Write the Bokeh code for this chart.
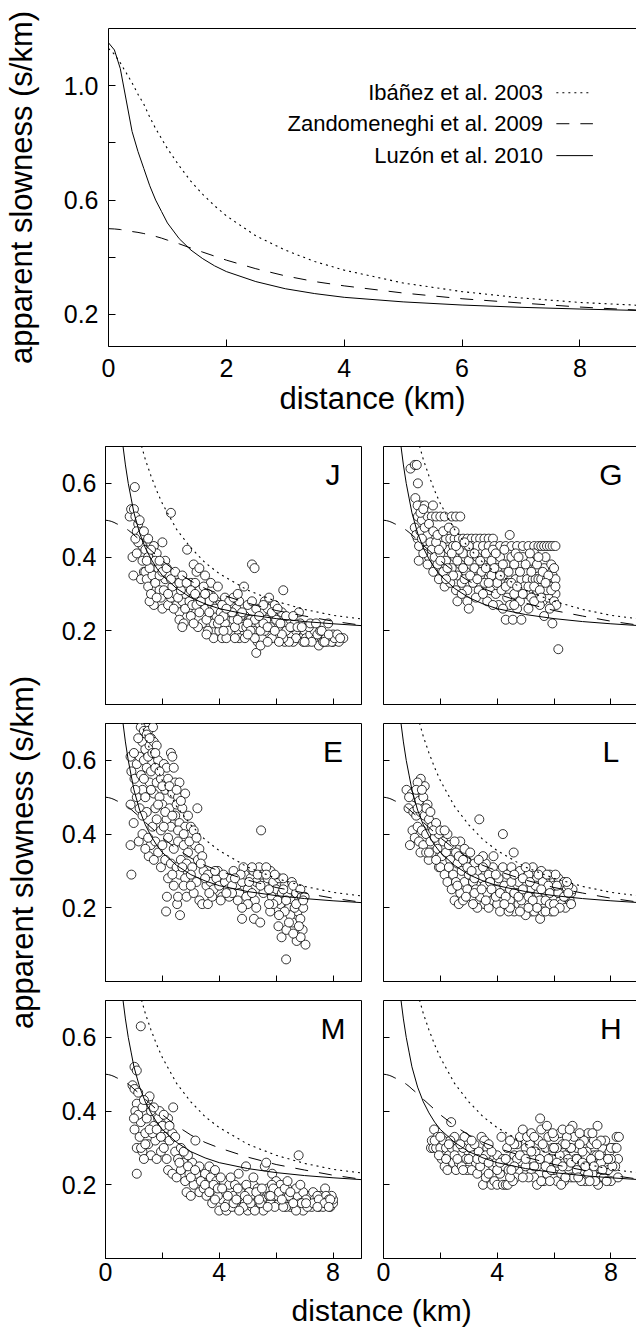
from math import pi
from bokeh.plotting import figure
from bokeh.models import Range1d, FixedTicker, LinearAxis, PrintfTickFormatter
from bokeh.layouts import column, row
from bokeh.core.properties import value
from bokeh.embed import file_html
from bokeh.resources import INLINE

FONT = "Liberation Sans"
TICK_FS = "25px"
TITLE_FS = "31px"

# ---------------- model curves ----------------
dist = [0, 0.1, 0.2, 0.3, 0.4, 0.5, 0.6, 0.7, 0.8, 0.9, 1.0, 1.2, 1.4, 1.6, 1.8,
        2.0, 2.5, 3.0, 3.5, 4.0, 5.0, 6.0, 7.0, 8.0, 9.0]
ibanez = [1.13, 1.11, 1.08, 1.045, 1.01, 0.97, 0.935, 0.89, 0.85, 0.815, 0.78, 0.72,
          0.665, 0.62, 0.58, 0.545, 0.475, 0.425, 0.385, 0.355, 0.31, 0.28, 0.258, 0.242, 0.232]
zandom = [0.50, 0.499, 0.497, 0.494, 0.49, 0.487, 0.483, 0.478, 0.473, 0.467, 0.46, 0.447,
          0.432, 0.418, 0.404, 0.39, 0.36, 0.335, 0.315, 0.30, 0.275, 0.255, 0.24, 0.226, 0.215]
luzon = [1.15, 1.125, 1.06, 0.95, 0.84, 0.77, 0.71, 0.65, 0.60, 0.56, 0.52, 0.465,
         0.425, 0.395, 0.37, 0.35, 0.315, 0.29, 0.273, 0.26, 0.244, 0.233, 0.225, 0.219, 0.214]

legend_names = ["Ibáñez et al. 2003", "Zandomeneghi et al. 2009", "Luzón et al. 2010"]
station_names = ["J", "G", "E", "L", "M", "H"]

# ---------------- station observations (distance km, slowness s/km) ----------------
J_pts = [(0.85,0.51),(0.90,0.53),(1.00,0.53),(1.05,0.51),(1.03,0.59),(1.15,0.49),(1.10,0.47),(0.95,0.40),(0.98,0.35),(1.20,0.44),(1.25,0.46),(1.30,0.43),(1.10,0.41),(1.30,0.39),(1.15,0.44),(1.05,0.45),(1.35,0.36),(1.25,0.34),
 (1.40,0.42),(1.50,0.40),(1.60,0.38),(1.40,0.36),(1.45,0.34),(1.50,0.32),(1.70,0.43),(1.80,0.41),(2.00,0.44),(1.65,0.35),(1.75,0.33),(1.85,0.37),(1.90,0.31),(1.70,0.27),(2.00,0.26),(1.95,0.29),(2.10,0.34),(2.10,0.39),(1.55,0.28),(1.60,0.30),(1.80,0.29),(1.55,0.37),(2.05,0.31),(1.90,0.35),(1.45,0.39),
 (2.20,0.27),(2.30,0.29),(2.40,0.31),(2.50,0.33),(2.30,0.52),(2.25,0.35),(2.50,0.27),(2.60,0.25),(2.70,0.28),(2.80,0.30),(2.90,0.32),(2.87,0.42),(2.60,0.23),(2.75,0.22),(2.90,0.26),(3.00,0.24),(2.45,0.30),(3.10,0.38),(3.20,0.36),(3.30,0.37),(3.00,0.33),(3.10,0.29),(2.35,0.32),(2.55,0.29),(2.65,0.31),(2.20,0.30),(2.80,0.26),(2.95,0.28),(2.40,0.26),(3.05,0.27),
 (3.20,0.27),(3.30,0.31),(3.40,0.29),(3.50,0.26),(3.50,0.35),(3.60,0.30),(3.70,0.25),(3.80,0.22),(3.90,0.28),(3.60,0.20),(3.80,0.18),(3.40,0.22),(3.30,0.25),(3.90,0.24),(4.00,0.27),(3.70,0.33),(4.00,0.20),(3.25,0.21),(3.55,0.23),(3.75,0.27),(3.85,0.26),(3.45,0.32),(3.15,0.33),(3.95,0.22),(3.65,0.28),(4.05,0.25),
 (4.10,0.18),(4.20,0.22),(4.30,0.25),(4.40,0.27),(4.50,0.23),(4.60,0.20),(4.70,0.18),(4.80,0.21),(4.90,0.24),(4.40,0.19),(4.20,0.29),(4.60,0.26),(4.87,0.32),(4.70,0.28),(5.00,0.27),(4.30,0.20),(4.90,0.18),(4.15,0.24),(4.35,0.28),(4.55,0.21),(4.75,0.24),(4.95,0.21),(4.65,0.23),(4.45,0.25),(4.25,0.18),(5.05,0.23),
 (5.15,0.38),(5.24,0.37),(5.10,0.23),(5.20,0.20),(5.30,0.14),(5.35,0.17),(5.40,0.22),(5.50,0.25),(5.60,0.28),(5.70,0.26),(5.50,0.18),(5.80,0.21),(5.90,0.24),(6.00,0.18),(5.60,0.20),(5.30,0.26),(5.75,0.29),(6.00,0.23),(5.15,0.28),(5.45,0.20),(5.65,0.23),(5.85,0.18),(5.95,0.27),(5.25,0.23),(5.55,0.22),(5.45,0.16),(5.70,0.17),
 (6.10,0.20),(6.25,0.31),(6.20,0.25),(6.30,0.17),(6.40,0.22),(6.50,0.19),(6.60,0.17),(6.70,0.20),(6.80,0.25),(6.90,0.18),(7.00,0.20),(6.50,0.23),(6.70,0.18),(6.35,0.20),(6.15,0.22),(6.45,0.17),(6.55,0.21),(6.85,0.22),(6.95,0.17),(6.65,0.22),(6.25,0.18),(7.05,0.18),
 (7.10,0.17),(7.20,0.19),(7.30,0.21),(7.40,0.18),(7.50,0.17),(7.60,0.18),(7.70,0.19),(7.83,0.22),(7.90,0.18),(8.00,0.17),(8.10,0.18),(8.00,0.19),(7.50,0.16),(7.35,0.20),(8.36,0.18),(7.80,0.17),(8.20,0.17),(7.25,0.17),(7.45,0.19),(7.65,0.17),(7.95,0.17),(8.05,0.18),(7.15,0.21),(7.55,0.20),(7.75,0.18),
 (1.20,0.50),(1.35,0.47),(1.50,0.45),(1.60,0.42),(1.75,0.39),(1.90,0.39),(2.00,0.36),(2.15,0.37),(2.30,0.34),(2.45,0.36),(2.60,0.33),(2.70,0.35),(2.85,0.33),(3.00,0.31),(3.15,0.30),(3.35,0.28),(3.50,0.30),(3.65,0.25),(3.80,0.29),(3.95,0.32),(4.10,0.27),(4.25,0.26),(4.50,0.29),(4.65,0.30),(4.80,0.25),(5.00,0.22),(5.10,0.20),(5.25,0.18),(5.40,0.24),(5.55,0.27),(5.70,0.21),(5.85,0.25),(6.05,0.26),(6.20,0.19),(6.35,0.24),(6.50,0.21),(6.60,0.24),(6.75,0.21),(6.90,0.21),(7.00,0.17),(7.20,0.22),(7.40,0.22),(7.60,0.20),(7.70,0.17),(7.85,0.19),(8.15,0.19),(8.25,0.18),(4.00,0.23),(3.55,0.19),(4.55,0.18),(5.00,0.19),(6.10,0.17),(5.95,0.20),(4.15,0.20),(3.10,0.22),(2.70,0.21)]

G_pts = [(0.95,0.64),(1.10,0.65),(1.17,0.65),(1.21,0.60),(1.12,0.56),(1.31,0.54),(1.20,0.54),(1.45,0.54),(1.74,0.54),(1.21,0.51),(1.10,0.48),(1.24,0.39),(1.20,0.45),(1.15,0.46),(1.35,0.50),(1.30,0.47),(1.40,0.44),(1.50,0.42),(1.60,0.40),(1.55,0.46),(1.40,0.41),(1.25,0.43),(1.45,0.48),(1.35,0.45),(1.55,0.38),(1.65,0.44),
 (1.55,0.51),(1.70,0.51),(1.85,0.51),(2.00,0.51),(2.15,0.51),(2.40,0.51),(2.55,0.51),(2.70,0.51),
 (2.05,0.45),(2.20,0.45),(2.35,0.45),(2.50,0.45),(2.65,0.45),(2.80,0.45),(2.95,0.45),(3.10,0.45),(3.25,0.45),(3.40,0.45),(3.55,0.45),(3.70,0.45),(3.85,0.45),(4.44,0.46),
 (3.10,0.43),(3.30,0.43),(3.50,0.43),(3.70,0.43),(3.90,0.43),(4.10,0.43),(4.30,0.43),(4.50,0.43),(4.70,0.43),(4.90,0.43),(5.10,0.43),(5.30,0.43),(5.45,0.43),(5.55,0.43),(5.65,0.43),(5.75,0.43),(5.85,0.43),(5.95,0.43),(6.05,0.43),
 (1.70,0.42),(1.80,0.40),(1.90,0.38),(2.00,0.41),(2.10,0.36),(2.20,0.39),(2.30,0.42),(2.40,0.37),(2.50,0.40),(2.60,0.35),(2.70,0.38),(2.80,0.41),(2.90,0.36),(3.00,0.39),(1.75,0.36),(1.95,0.34),(2.15,0.32),(2.35,0.33),(2.55,0.31),(2.75,0.33),(2.95,0.31),(2.60,0.28),(2.95,0.28),(2.45,0.35),(2.85,0.34),(2.05,0.43),(2.25,0.37),(2.65,0.42),(1.85,0.44),(2.45,0.43),
 (3.10,0.41),(3.20,0.37),(3.30,0.40),(3.40,0.35),(3.50,0.38),(3.60,0.41),(3.70,0.36),(3.80,0.39),(3.90,0.34),(4.00,0.37),(4.10,0.40),(4.20,0.35),(4.30,0.38),(4.40,0.33),(3.15,0.33),(3.35,0.31),(3.55,0.33),(3.75,0.31),(3.95,0.30),(4.15,0.31),(4.35,0.29),(3.25,0.29),(3.65,0.28),(4.05,0.27),(4.45,0.27),(3.45,0.36),(3.85,0.42),(4.25,0.42),(3.05,0.35),(4.50,0.40),
 (4.55,0.36),(4.65,0.34),(4.75,0.38),(4.85,0.34),(4.95,0.36),(5.05,0.34),(5.15,0.39),(5.25,0.34),(5.35,0.34),(5.45,0.34),(5.55,0.34),(5.65,0.37),(5.75,0.34),(5.85,0.32),(5.95,0.35),(6.05,0.30),(4.60,0.30),(4.80,0.28),(5.00,0.30),(5.20,0.29),(5.40,0.31),(5.60,0.28),(5.80,0.29),(6.00,0.28),(6.08,0.27),(4.70,0.26),(5.10,0.26),(5.50,0.27),(4.30,0.23),(4.55,0.23),(4.85,0.23),(5.94,0.22),(5.65,0.24),(6.15,0.15),(4.90,0.40),(5.30,0.41),(5.70,0.40),(5.90,0.38),(6.05,0.34),(4.95,0.32),(5.35,0.37),(5.75,0.31),(4.65,0.41),
 (1.30,0.52),(1.40,0.53),(1.60,0.49),(1.75,0.47),(1.90,0.46),(2.10,0.47),(2.30,0.48),(2.50,0.47),(2.00,0.39),(2.20,0.34),(2.40,0.41),(2.60,0.39),(2.80,0.37),(3.00,0.43),(3.20,0.41),(3.40,0.39),(3.60,0.37),(3.80,0.35),(4.00,0.33),(4.20,0.38),(4.40,0.36),(4.60,0.38),(4.80,0.36),(5.00,0.38),(5.20,0.36),(5.40,0.38),(5.60,0.36),(5.80,0.35),(6.00,0.37),(3.30,0.34),(3.50,0.30),(3.70,0.33),(3.90,0.37),(4.10,0.35),(4.30,0.32),(4.50,0.33),(4.70,0.32),(4.90,0.30),(5.10,0.32),(5.30,0.32),(5.50,0.31),(5.70,0.33),(5.90,0.31),(2.75,0.30),(3.00,0.26),(3.85,0.27),(4.20,0.26),(4.60,0.27),(5.30,0.28),(5.55,0.29),(5.85,0.26),(6.05,0.32),(5.15,0.41),(5.45,0.40),(4.75,0.40),(3.95,0.41),(2.55,0.43),(1.95,0.42),(2.85,0.44)]

E_pts = [(1.24,0.69),(1.35,0.68),(1.50,0.68),(1.67,0.69),(1.45,0.67),(1.60,0.66),(1.30,0.65),(1.40,0.63),(1.55,0.64),(1.70,0.65),(1.80,0.64),(0.88,0.61),(0.91,0.57),(1.02,0.55),(1.10,0.59),(1.20,0.61),(1.35,0.60),(1.50,0.61),(1.65,0.62),(1.85,0.60),(2.30,0.62),(2.35,0.61),(1.25,0.56),(1.45,0.58),(1.60,0.57),(1.75,0.58),(2.05,0.59),(2.15,0.58),(2.40,0.58),(1.30,0.52),(1.55,0.54),(1.80,0.54),(1.95,0.55),(2.20,0.55),(2.45,0.54),(2.60,0.54),(1.10,0.50),(1.40,0.50),(1.70,0.51),(1.90,0.50),(2.10,0.52),(2.35,0.51),(2.55,0.50),(2.80,0.51),(0.88,0.48),(0.99,0.43),(1.20,0.47),(1.45,0.46),(1.75,0.47),(2.00,0.48),(2.25,0.47),(2.50,0.48),(2.70,0.47),(3.23,0.47),(0.88,0.37),(0.91,0.29),(1.17,0.38),(1.30,0.40),(1.52,0.34),(1.59,0.37),(1.65,0.42),(1.80,0.44),(1.95,0.41),(2.15,0.44),(2.30,0.42),(2.45,0.45),(2.60,0.43),(2.80,0.42),(3.00,0.42),(3.10,0.41),(1.40,0.36),(1.75,0.38),(1.85,0.35),(2.00,0.37),(2.20,0.39),(2.40,0.36),(2.55,0.38),(2.75,0.37),(2.90,0.35),(3.15,0.37),(3.30,0.36),(1.95,0.31),(2.10,0.33),(2.30,0.32),(2.50,0.31),(2.65,0.33),(2.85,0.32),(3.05,0.31),(3.25,0.33),(3.40,0.34),(2.20,0.28),(2.40,0.26),(2.60,0.29),(2.80,0.28),(3.00,0.29),(3.20,0.27),(3.45,0.30),(2.16,0.23),(2.13,0.19),(2.62,0.18),(2.52,0.21),(2.55,0.23),(2.85,0.23),(3.10,0.24),(3.30,0.22),(3.40,0.21),(3.60,0.21),(2.75,0.26),(3.55,0.26),
 (3.60,0.29),(3.70,0.27),(3.80,0.25),(3.90,0.28),(4.00,0.26),(4.10,0.23),(4.20,0.27),(4.30,0.25),(4.40,0.28),(4.50,0.30),(4.60,0.26),(4.70,0.24),(4.80,0.27),(4.90,0.29),(5.00,0.25),(5.10,0.28),(5.20,0.30),(5.30,0.27),(5.40,0.31),(5.50,0.29),(5.60,0.26),(5.70,0.28),(5.80,0.30),(5.90,0.27),(6.00,0.25),(6.10,0.28),(6.20,0.24),(6.30,0.26),(6.40,0.23),(6.50,0.25),(6.60,0.22),(6.70,0.24),(6.80,0.22),(6.90,0.23),(7.00,0.23),(3.75,0.23),(4.05,0.22),(4.35,0.23),(4.65,0.22),(4.95,0.23),(5.25,0.22),(5.55,0.24),(5.85,0.23),(6.15,0.21),(6.45,0.20),(6.75,0.19),(5.00,0.21),(5.30,0.20),(4.80,0.20),(4.85,0.31),(5.15,0.31),(5.45,0.26),(5.75,0.25),(6.05,0.22),(6.55,0.27),(5.47,0.41),(4.45,0.26),(3.95,0.30),(6.25,0.28),(5.65,0.31),
 (4.80,0.17),(5.22,0.17),(5.44,0.16),(5.79,0.19),(6.08,0.15),(6.19,0.12),(6.36,0.14),(6.58,0.16),(6.72,0.11),(6.93,0.14),(7.03,0.10),(6.86,0.12),(6.35,0.06),(6.50,0.18),(6.65,0.20),(6.30,0.19),(6.85,0.17),(6.10,0.18),(5.90,0.21),(6.95,0.20),
 (1.15,0.66),(1.55,0.66),(1.75,0.62),(1.90,0.57),(2.00,0.53),(2.25,0.53),(2.50,0.52),(2.65,0.49),(2.90,0.45),(1.60,0.52),(1.85,0.48),(2.10,0.46),(2.35,0.45),(2.55,0.41),(2.75,0.40),(2.95,0.38),(3.20,0.39),(3.35,0.32),(3.50,0.28),(3.65,0.24),(3.85,0.30),(4.15,0.29),(4.45,0.24),(4.75,0.29),(5.05,0.27),(5.35,0.29),(5.65,0.29),(5.95,0.29),(6.25,0.25),(6.60,0.26),(6.85,0.25),(2.70,0.31),(2.35,0.29),(3.00,0.26),(4.25,0.24),(4.55,0.28),(5.15,0.24),(5.75,0.21),(6.35,0.22),(6.70,0.21),(6.95,0.22),(1.00,0.62),(1.30,0.45),(1.50,0.39),(1.70,0.33),(2.05,0.42),(1.05,0.52),(1.35,0.55),(6.45,0.16),(6.60,0.13),(6.80,0.15)]

L_pts = [(0.81,0.52),(1.31,0.55),(1.45,0.53),(1.20,0.54),(0.88,0.47),(1.02,0.41),(0.93,0.37),(1.59,0.33),(1.95,0.31),(1.00,0.51),(1.10,0.50),(1.25,0.49),(1.40,0.50),(1.55,0.48),(1.05,0.46),(1.15,0.45),(1.30,0.46),(1.45,0.45),(1.60,0.44),(1.20,0.42),(1.35,0.41),(1.50,0.40),(1.70,0.42),(1.85,0.43),(1.10,0.39),(1.25,0.38),(1.40,0.37),(1.65,0.38),(1.80,0.39),(1.95,0.40),(1.30,0.35),(1.50,0.35),(1.70,0.35),(1.90,0.36),(2.10,0.38),(2.25,0.40),(2.40,0.37),(2.05,0.34),(2.20,0.35),(2.35,0.33),(2.55,0.35),(2.70,0.38),(2.85,0.36),(2.00,0.31),(2.15,0.29),(2.30,0.31),(2.45,0.29),(2.60,0.32),(2.75,0.30),(2.90,0.33),(3.05,0.35),(3.20,0.32),(2.25,0.27),(2.40,0.25),(2.55,0.27),(2.70,0.24),(2.85,0.27),(3.00,0.29),(3.15,0.27),(3.30,0.30),(3.45,0.28),(2.50,0.22),(2.65,0.21),(2.80,0.22),(2.95,0.25),(3.10,0.23),(3.25,0.25),(3.40,0.23),(3.55,0.26),(3.70,0.29),(3.85,0.31),(3.37,0.44),(4.20,0.40),(4.58,0.35),(3.87,0.34),(3.60,0.32),(3.75,0.27),(3.90,0.25),(4.05,0.28),(4.20,0.31),(4.35,0.29),(4.50,0.31),(4.65,0.28),(4.80,0.30),(4.95,0.27),(5.10,0.29),(5.25,0.31),(5.40,0.28),(5.55,0.30),(5.70,0.27),(5.85,0.29),(6.00,0.26),(6.15,0.28),(6.30,0.26),(6.45,0.25),(6.60,0.24),(3.55,0.21),(3.70,0.20),(3.85,0.22),(4.00,0.21),(4.15,0.23),(4.30,0.20),(4.45,0.22),(4.60,0.19),(4.75,0.21),(4.90,0.20),(5.05,0.22),(5.20,0.19),(5.35,0.21),(5.51,0.17),(5.65,0.20),(5.80,0.22),(5.95,0.20),(6.10,0.22),(6.25,0.21),(6.40,0.20),(6.55,0.22),(6.65,0.25),(4.00,0.25),(4.25,0.26),(4.45,0.25),(4.70,0.24),(4.95,0.24),(5.20,0.25),(5.45,0.24),(5.70,0.24),(5.95,0.23),(6.20,0.24),(6.40,0.23),(4.10,0.19),(4.40,0.19),(5.00,0.18),(5.30,0.19),(5.60,0.19),(5.90,0.19),(3.30,0.20),(3.15,0.21),(3.20,0.28),(3.50,0.34),(3.95,0.29),(4.75,0.27),(5.00,0.31),(5.35,0.26),(5.60,0.27),(5.80,0.26),(6.05,0.29),(6.35,0.27),(6.50,0.26),(4.50,0.27),(4.85,0.22),(5.50,0.22),(5.85,0.24),(6.15,0.24),
 (0.90,0.50),(1.15,0.52),(1.35,0.52),(1.50,0.47),(1.65,0.46),(1.75,0.41),(2.00,0.41),(2.15,0.41),(2.30,0.37),(2.50,0.38),(2.65,0.34),(2.80,0.33),(2.95,0.31),(3.10,0.30),(3.35,0.33),(3.50,0.31),(3.65,0.24),(3.80,0.25),(3.95,0.23),(4.10,0.24),(4.30,0.23),(4.45,0.20),(4.60,0.24),(4.75,0.23),(4.90,0.25),(5.10,0.23),(5.25,0.22),(5.40,0.20),(5.55,0.25),(5.70,0.22),(5.85,0.21),(6.00,0.21),(6.20,0.20),(6.35,0.23),(6.50,0.24),(6.60,0.21),(4.60,0.29),(4.90,0.28),(5.15,0.27),(5.45,0.29),(5.75,0.29),(6.10,0.26),(6.45,0.27),(2.60,0.26),(2.90,0.23),(3.20,0.24),(3.45,0.25),(3.60,0.22),(4.25,0.21),(4.80,0.19),(5.10,0.20),(5.70,0.19),(6.00,0.19),(1.20,0.47),(1.60,0.35),(1.85,0.33)]

M_pts = [(1.24,0.63),(1.02,0.52),(1.10,0.51),(0.95,0.47),(1.02,0.46),(1.10,0.42),(1.02,0.35),(1.10,0.30),(1.10,0.23),(1.24,0.37),(1.05,0.40),(1.15,0.39),(1.00,0.38),(1.30,0.41),(1.20,0.33),(1.30,0.29),(1.40,0.34),(1.45,0.38),(1.50,0.43),(1.55,0.44),(1.60,0.40),(1.70,0.36),(1.50,0.31),(1.60,0.28),(1.75,0.32),(1.85,0.38),(1.90,0.40),(2.00,0.36),(2.10,0.33),(2.20,0.38),(2.38,0.41),(1.80,0.27),(1.95,0.29),(2.05,0.30),(2.15,0.27),(2.25,0.32),(2.35,0.34),(2.45,0.29),(2.55,0.27),(2.65,0.30),(2.75,0.26),(2.20,0.24),(2.35,0.23),(2.50,0.22),(2.65,0.24),(2.80,0.21),(2.95,0.23),(3.05,0.26),(3.16,0.32),(2.90,0.28),(3.10,0.20),(3.20,0.23),(3.30,0.25),(3.40,0.21),(3.50,0.23),(3.60,0.19),(3.70,0.22),(3.30,0.18),(3.45,0.19),(3.55,0.17),(3.80,0.18),(3.90,0.21),(4.00,0.19),(4.00,0.13),(4.10,0.16),(4.20,0.18),(4.30,0.15),(4.40,0.19),(4.50,0.17),(4.60,0.14),(4.70,0.16),(4.68,0.23),(4.80,0.19),(4.90,0.15),(4.94,0.25),(5.00,0.13),(5.10,0.17),(5.20,0.20),(5.30,0.15),(5.40,0.18),(5.50,0.16),(5.60,0.25),(5.65,0.26),(5.70,0.19),(5.80,0.15),(5.86,0.23),(5.90,0.17),(6.00,0.21),(6.10,0.15),(6.20,0.18),(6.30,0.16),(6.40,0.19),(6.50,0.14),(6.60,0.17),(6.70,0.15),(6.79,0.28),(6.80,0.19),(6.90,0.16),(7.00,0.14),(7.10,0.17),(7.20,0.15),(7.30,0.18),(7.40,0.15),(7.50,0.14),(7.60,0.16),(7.72,0.19),(7.80,0.15),(7.90,0.14),(8.00,0.15),(8.00,0.16),(7.95,0.17),(4.15,0.21),(4.35,0.20),(4.55,0.20),(4.75,0.18),(4.95,0.20),(5.15,0.14),(5.35,0.19),(5.55,0.13),(5.75,0.17),(5.95,0.14),(6.15,0.20),(6.35,0.14),(6.55,0.16),(6.75,0.17),(6.95,0.18),(7.15,0.15),(7.35,0.16),(7.55,0.17),(7.75,0.17),(4.25,0.13),(4.45,0.14),(4.85,0.14),(5.25,0.13),(5.45,0.15),(6.05,0.17),(6.25,0.14),(6.45,0.17),(6.65,0.14),(6.85,0.15),(7.05,0.16),(7.25,0.14),(7.45,0.17),(7.65,0.14),(7.85,0.16),(3.75,0.15),(3.95,0.17),(4.65,0.19),(5.05,0.18),(5.85,0.20),(6.70,0.19),(6.95,0.13),(4.05,0.22),(3.65,0.25),(3.85,0.24),(2.85,0.18),(3.00,0.17),(1.65,0.34),(1.35,0.27),(1.25,0.30),
 (1.15,0.45),(1.35,0.43),(1.40,0.31),(1.55,0.35),(1.70,0.41),(1.80,0.35),(1.95,0.33),(2.05,0.39),(2.25,0.36),(2.45,0.33),(2.60,0.26),(2.75,0.29),(2.90,0.25),(3.00,0.22),(3.15,0.24),(3.35,0.21),(3.50,0.20),(3.65,0.18),(3.80,0.20),(3.95,0.19),(4.10,0.19),(4.30,0.17),(4.50,0.15),(4.70,0.13),(4.90,0.17),(5.10,0.15),(5.30,0.18),(5.50,0.19),(5.70,0.14),(5.90,0.19),(6.10,0.18),(6.30,0.19),(6.50,0.18),(6.70,0.13),(6.90,0.15),(7.10,0.14),(7.30,0.15),(7.50,0.16),(7.70,0.15),(7.90,0.16),(7.85,0.14),(7.45,0.14),(7.05,0.15),(6.60,0.15),(6.20,0.16),(5.80,0.17),(5.40,0.16),(5.00,0.16),(4.60,0.16),(4.20,0.14),(3.85,0.16),(6.40,0.21),(5.20,0.22),(4.40,0.22),(6.85,0.20)]

H_pts = [(1.67,0.30),(1.78,0.35),(1.70,0.32),(1.75,0.30),(1.85,0.30),(1.90,0.33),(2.00,0.30),(2.10,0.32),(2.20,0.30),(2.38,0.37),(2.05,0.27),(2.15,0.25),(2.30,0.28),(2.40,0.30),(2.50,0.33),(2.60,0.30),(2.70,0.28),(2.80,0.30),(2.90,0.27),(2.25,0.24),(2.45,0.26),(2.55,0.24),(2.65,0.26),(2.75,0.25),(2.95,0.24),(3.05,0.30),(3.15,0.28),(3.25,0.26),(3.35,0.29),(3.45,0.33),(3.55,0.32),(3.65,0.30),(3.75,0.27),(3.85,0.25),(3.95,0.26),(4.05,0.24),(4.15,0.33),(3.10,0.24),(3.30,0.23),(3.50,0.20),(3.60,0.22),(3.70,0.23),(3.80,0.20),(3.90,0.21),(4.00,0.20),(4.20,0.20),(4.30,0.20),(4.37,0.20),(4.10,0.23),(4.25,0.25),(4.40,0.24),(4.50,0.26),(4.60,0.28),(4.70,0.31),(4.80,0.33),(4.90,0.35),(5.00,0.30),(5.10,0.27),(5.20,0.24),(5.30,0.22),(5.40,0.20),(5.51,0.38),(5.55,0.35),(5.45,0.32),(5.35,0.29),(5.25,0.27),(5.15,0.31),(5.05,0.33),(4.95,0.28),(4.85,0.26),(4.75,0.24),(4.65,0.22),(4.55,0.21),(4.45,0.22),(5.60,0.26),(5.70,0.30),(5.80,0.33),(5.90,0.27),(6.00,0.24),(6.10,0.21),(6.20,0.34),(6.30,0.31),(6.40,0.28),(6.50,0.25),(6.60,0.22),(6.65,0.36),(6.70,0.33),(6.80,0.30),(6.90,0.27),(7.00,0.24),(7.10,0.21),(7.20,0.34),(7.30,0.31),(7.40,0.28),(7.50,0.25),(7.53,0.36),(7.55,0.20),(7.60,0.22),(7.70,0.30),(7.80,0.27),(7.90,0.24),(8.00,0.21),(8.10,0.30),(8.20,0.33),(8.28,0.33),(8.25,0.27),(8.15,0.25),(5.65,0.21),(5.75,0.23),(5.85,0.21),(5.95,0.30),(6.05,0.27),(6.15,0.25),(6.25,0.23),(6.35,0.21),(6.45,0.33),(6.55,0.30),(6.75,0.27),(6.85,0.25),(6.95,0.21),(7.05,0.32),(7.15,0.29),(7.25,0.26),(7.35,0.23),(7.45,0.21),(7.65,0.26),(7.75,0.22),(7.85,0.21),(7.95,0.29),(8.05,0.25),(6.00,0.33),(6.30,0.35),(6.90,0.34),(7.80,0.32),(4.00,0.28),(4.35,0.30),(5.20,0.34),(5.75,0.36),(6.60,0.30),(7.10,0.28),(7.40,0.32),(4.70,0.27),(5.00,0.25),(5.40,0.25),(5.80,0.27),(6.20,0.28),(6.70,0.22),(7.20,0.23),(7.65,0.32),(8.00,0.27),(3.40,0.25),(3.60,0.28),(3.20,0.31),(2.85,0.33),(2.35,0.32),(1.95,0.28),(6.10,0.30),(6.40,0.22),(6.80,0.24),(7.00,0.29),(7.50,0.28),(5.10,0.22),(4.60,0.25),(4.20,0.27),
 (1.80,0.32),(2.00,0.33),(2.20,0.27),(2.30,0.31),(2.50,0.28),(2.60,0.27),(2.70,0.31),(2.80,0.24),(3.00,0.27),(3.10,0.32),(3.30,0.27),(3.50,0.27),(3.70,0.26),(3.80,0.29),(4.00,0.24),(4.10,0.26),(4.30,0.27),(4.50,0.24),(4.60,0.31),(4.80,0.28),(4.90,0.22),(5.00,0.27),(5.20,0.29),(5.30,0.25),(5.50,0.27),(5.60,0.31),(5.70,0.25),(5.90,0.24),(6.00,0.30),(6.10,0.26),(6.30,0.25),(6.40,0.31),(6.50,0.27),(6.60,0.26),(6.80,0.27),(6.90,0.31),(7.00,0.26),(7.10,0.25),(7.30,0.27),(7.40,0.25),(7.50,0.31),(7.60,0.28),(7.70,0.24),(7.90,0.27),(8.00,0.30),(8.20,0.30),(8.25,0.22),(7.35,0.34),(6.55,0.35),(5.95,0.34),(5.30,0.33),(4.45,0.32),(3.70,0.31),(6.25,0.20),(6.85,0.22),(7.25,0.21),(5.55,0.21)]

station_pts = [J_pts, G_pts, E_pts, L_pts, M_pts, H_pts]

top_y_ticks = [0.2, 0.6, 1.0]
top_y_minor = [0.4, 0.8]
top_x_ticks = [0, 2, 4, 6, 8]
pan_y_ticks = [0.2, 0.4, 0.6]
pan_x_ticks = [0, 4, 8]
pan_x_minor = [2, 6]

DOT = "2 4"
DASH = "13 11"


def make_fig(w, h, xr, yr, mbl, mbr, mbt, mbb):
    p = figure(width=w, height=h, x_range=Range1d(*xr), y_range=Range1d(*yr),
               output_backend="svg", toolbar_location=None, title=None,
               min_border_left=mbl, min_border_right=mbr,
               min_border_top=mbt, min_border_bottom=mbb)
    p.grid.grid_line_color = None
    p.background_fill_color = "white"
    p.border_fill_color = "white"
    return p


def style_axis(ax, ticks, minor, tick_len, show, standoff=9, fmt=None):
    if show:
        ax.ticker = FixedTicker(ticks=ticks, minor_ticks=minor)
        ax.major_label_text_font_size = TICK_FS
        ax.major_label_standoff = standoff
    else:
        # unlabeled axis: every tick drawn as a minor tick (no label texts)
        ax.ticker = FixedTicker(ticks=[], minor_ticks=list(ticks) + list(minor))
        ax.major_label_standoff = 0
    ax.major_tick_in = tick_len
    ax.major_tick_out = 0
    ax.minor_tick_in = tick_len
    ax.minor_tick_out = 0
    ax.major_tick_line_color = "black"
    ax.minor_tick_line_color = "black"
    ax.axis_line_color = "black"
    ax.major_label_text_font = FONT
    ax.major_label_text_color = "black"
    if fmt:
        ax.formatter = PrintfTickFormatter(format=fmt)


def add_top_line(p):
    ax = LinearAxis(ticker=FixedTicker(ticks=[]), major_label_standoff=0,
                    major_tick_line_color=None, minor_tick_line_color=None,
                    axis_line_color="black")
    p.add_layout(ax, "above")


def draw_curves(p):
    p.line(dist, ibanez, line_color="black", line_width=1.1, line_dash=DOT)
    p.line(dist, zandom, line_color="black", line_width=1, line_dash=DASH)
    p.line(dist, luzon, line_color="black", line_width=1)


# ---------------- top panel ----------------
top = make_fig(636, 424, (0, 8.96), (0.088, 1.2), 105, 0, 28, 78)
top.outline_line_color = None
style_axis(top.below[0], top_x_ticks, [], 7, True, standoff=12)
style_axis(top.left[0], top_y_ticks, top_y_minor, 7, True, standoff=10, fmt="%.1f")
add_top_line(top)
for ax, lab in ((top.below[0], "distance (km)"), (top.left[0], "apparent slowness (s/km)")):
    ax.axis_label = lab
    ax.axis_label_text_font = FONT
    ax.axis_label_text_font_size = TITLE_FS
    ax.axis_label_text_font_style = "normal"
    ax.axis_label_text_color = "black"
top.below[0].axis_label_standoff = 1
top.left[0].axis_label_standoff = 22
draw_curves(top)

leg_y = [0.9755, 0.867, 0.7555]
top.text(x=[7.375] * 3, y=leg_y, text=legend_names, text_align="right",
         text_baseline="middle", text_font=value(FONT), text_font_size="22px",
         text_color="black")
top.segment(x0=[7.6], y0=[leg_y[0]], x1=[8.2], y1=[leg_y[0]], line_color="black",
            line_width=1.1, line_dash=DOT)
top.segment(x0=[7.6], y0=[leg_y[1]], x1=[8.22], y1=[leg_y[1]], line_color="black",
            line_width=1, line_dash=DASH)
top.segment(x0=[7.6], y0=[leg_y[2]], x1=[8.22], y1=[leg_y[2]], line_color="black",
            line_width=1)

# ---------------- station panels ----------------
row_h = [289, 278, 300]
row_bt = [(22, 9), (10, 10), (9, 33)]
panels = []
for i, (name, pts) in enumerate(zip(station_names, station_pts)):
    r, c = divmod(i, 2)
    mbt, mbb = row_bt[r]
    bottom_row = (r == 2)
    if c == 0:
        p = make_fig(314, row_h[r], (0, 9), (0, 0.7), 47, 11, mbt, mbb)
        p.outline_line_color = "black"
        p.outline_line_width = 1
        style_axis(p.left[0], pan_y_ticks, [], 6, True, standoff=9, fmt="%.1f")
    else:
        p = make_fig(264, row_h[r], (0, 8.9), (0, 0.7), 11, 0, mbt, mbb)
        p.outline_line_color = None
        style_axis(p.left[0], pan_y_ticks, [], 6, False)
        add_top_line(p)
    style_axis(p.below[0], pan_x_ticks, pan_x_minor, 6, bottom_row, standoff=4)
    xs = [q[0] for q in pts]
    ys = [q[1] for q in pts]
    p.scatter(xs, ys, marker="circle", size=9, fill_color="white",
              line_color="black", line_width=0.8)
    draw_curves(p)
    p.text(x=[8.0], y=[0.625], text=[name], text_align="center",
           text_baseline="middle", text_font=value(FONT), text_font_size="30px",
           text_color="black")
    panels.append(p)

# shared y label (strip left of the station panels)
ylab = make_fig(58, 867, (0, 58), (0, 867), 0, 0, 0, 0)
ylab.outline_line_color = None
ylab.xaxis.visible = False
ylab.yaxis.visible = False
ylab.text(x=[22], y=[867 - 428], text=["apparent slowness (s/km)"], angle=pi / 2,
          text_align="center", text_baseline="middle", text_font=value(FONT),
          text_font_size=TITLE_FS, text_color="black")

# shared x label (strip below the station panels)
xlab = make_fig(636, 39, (0, 636), (0, 39), 0, 0, 0, 0)
xlab.outline_line_color = None
xlab.xaxis.visible = False
xlab.yaxis.visible = False
xlab.text(x=[329], y=[20], text=["distance (km)"], text_align="center",
          text_baseline="alphabetic", text_font=value(FONT),
          text_font_size="30px", text_color="black")

grid = column(row(panels[0], panels[1]), row(panels[2], panels[3]), row(panels[4], panels[5]))
layout = column(top, row(ylab, grid), xlab)

open("out.html", "w").write(file_html(layout, INLINE))
